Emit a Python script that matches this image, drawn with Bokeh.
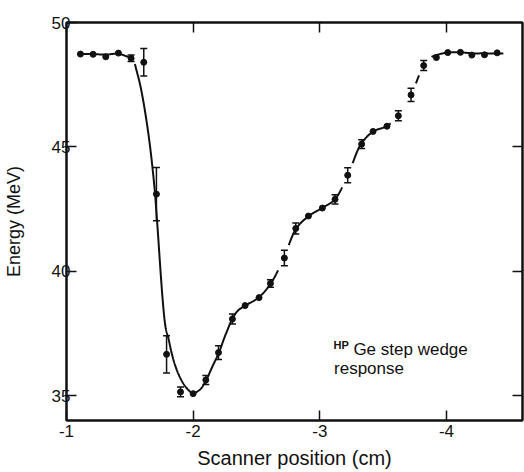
import numpy as np
from bokeh.plotting import figure
from bokeh.models import (Range1d, FixedTicker, LinearAxis, Whisker, TeeHead,
                          ColumnDataSource, Label)
from bokeh.embed import file_html
from bokeh.resources import INLINE

# ---------------- data ----------------
pos_cm = [-1.11, -1.21, -1.31, -1.41, -1.51, -1.61, -1.71, -1.79, -1.90, -2.00,
          -2.10, -2.20, -2.31, -2.41, -2.52, -2.61, -2.72, -2.81, -2.91, -3.02,
          -3.12, -3.22, -3.33, -3.42, -3.53, -3.62, -3.72, -3.82, -3.92, -4.01,
          -4.11, -4.20, -4.30, -4.40]
energy = [48.73, 48.72, 48.62, 48.77, 48.56, 48.40, 43.10, 36.66, 35.15, 35.08,
          35.63, 36.73, 38.08, 38.62, 38.94, 39.51, 40.53, 41.72, 42.22, 42.54,
          42.89, 43.86, 45.11, 45.62, 45.83, 46.25, 47.09, 48.27, 48.59, 48.79,
          48.80, 48.69, 48.70, 48.78]
err = [0, 0, 0, 0, 0.13, 0.55, 1.07, 0.75, 0.20, 0,
       0.18, 0.28, 0.20, 0, 0, 0.15, 0.31, 0.22, 0, 0,
       0.19, 0.30, 0.18, 0, 0, 0.20, 0.27, 0.20, 0, 0,
       0, 0, 0, 0]

# hand-drawn guide curve (two pieces)
curve1_x = [-1.11, -1.21, -1.31, -1.41, -1.51]
curve1_y = [48.74, 48.73, 48.71, 48.74, 48.57]
curve2_x = [-1.54, -1.587, -1.647, -1.695, -1.713, -1.782, -1.805, -1.825, -1.853,
            -1.882, -1.922, -1.962, -1.996, -2.053, -2.098, -2.153, -2.203, -2.252,
            -2.309, -2.352, -2.411, -2.516, -2.613, -2.715, -2.814, -2.913, -3.016,
            -3.118, -3.221, -3.325, -3.422, -3.525, -3.624, -3.720, -3.819, -3.870,
            -3.948, -4.012, -4.108, -4.207, -4.300, -4.449]
curve2_y = [48.33, 47.36, 45.51, 43.35, 42.16, 37.75, 37.30, 36.82, 36.29,
            35.89, 35.49, 35.23, 35.10, 35.24, 35.58, 36.18, 36.73, 37.40,
            38.08, 38.41, 38.62, 38.94, 39.51, 40.53, 41.72, 42.22, 42.54,
            42.89, 43.86, 45.11, 45.62, 45.83, 46.25, 47.09, 48.27, 48.58,
            48.73, 48.79, 48.80, 48.76, 48.76, 48.75]
# points where the drawn curve is broken around the error bar
gap_points = [-2.72, -3.22, -3.62, -3.72, -3.82]

x_ticks = [-1, -2, -3, -4]
x_tick_labels = ["-1", "-2", "-3", "-4"]
y_ticks = [35, 40, 45, 50]
y_tick_labels = ["35", "40", "45", "50"]

FONT = "Liberation Sans"
INK = "#111111"


def smooth(xs, ys, n=24, ax=128.0, ay=25.0):
    """centripetal Catmull-Rom through the read knots (rendering only)"""
    P = np.column_stack([np.asarray(xs) * ax, np.asarray(ys) * ay])
    P = np.vstack([2 * P[0] - P[1], P, 2 * P[-1] - P[-2]])
    out = []
    for i in range(1, len(P) - 2):
        p0, p1, p2, p3 = P[i - 1], P[i], P[i + 1], P[i + 2]
        t0 = 0.0
        t1 = t0 + np.linalg.norm(p1 - p0) ** 0.5 + 1e-9
        t2 = t1 + np.linalg.norm(p2 - p1) ** 0.5 + 1e-9
        t3 = t2 + np.linalg.norm(p3 - p2) ** 0.5 + 1e-9
        for t in np.linspace(t1, t2, n, endpoint=False):
            a1 = (t1 - t) / (t1 - t0) * p0 + (t - t0) / (t1 - t0) * p1
            a2 = (t2 - t) / (t2 - t1) * p1 + (t - t1) / (t2 - t1) * p2
            a3 = (t3 - t) / (t3 - t2) * p2 + (t - t2) / (t3 - t2) * p3
            b1 = (t2 - t) / (t2 - t0) * a1 + (t - t0) / (t2 - t0) * a2
            b2 = (t3 - t) / (t3 - t1) * a2 + (t - t1) / (t3 - t1) * a3
            out.append((t2 - t) / (t2 - t1) * b1 + (t - t1) / (t2 - t1) * b2)
    out.append(P[-2])
    out = np.array(out)
    return out[:, 0] / ax, out[:, 1] / ay


p = figure(width=524, height=472, output_backend="svg", toolbar_location=None,
           x_range=Range1d(-1, -4.6), y_range=Range1d(34, 50),
           min_border_left=63, min_border_right=2, min_border_top=22,
           min_border_bottom=52)
p.grid.visible = False
p.background_fill_color = "white"
p.border_fill_color = "white"
p.outline_line_color = INK
p.outline_line_width = 2

# curve
c1x, c1y = smooth(curve1_x, curve1_y)
p.line(c1x, c1y, line_color=INK, line_width=2)
c2x, c2y = smooth(curve2_x, curve2_y)
c2y = c2y.copy()
for g in gap_points:
    i = pos_cm.index(g)
    mask = (np.abs(c2x - g) < 0.06) & (np.abs(c2y - energy[i]) < err[i] + 0.18)
    c2y[mask] = np.nan
p.line(c2x, c2y, line_color=INK, line_width=2)

# error bars
ex = [x for x, e in zip(pos_cm, err) if e > 0]
ey = [y for y, e in zip(energy, err) if e > 0]
ee = [e for e in err if e > 0]
esrc = ColumnDataSource(dict(x=ex, upper=[y + e for y, e in zip(ey, ee)],
                             lower=[y - e for y, e in zip(ey, ee)]))
wh = Whisker(source=esrc, base="x", upper="upper", lower="lower",
             dimension="height", line_color=INK, line_width=1.5,
             upper_head=TeeHead(size=7, line_width=1.5, line_color=INK),
             lower_head=TeeHead(size=7, line_width=1.5, line_color=INK))
p.add_layout(wh)

# points
p.scatter(pos_cm, energy, size=6, color=INK)

# axes
for ax, ticks, labels in ((p.xaxis[0], x_ticks, x_tick_labels),
                          (p.yaxis[0], y_ticks, y_tick_labels)):
    ax.ticker = FixedTicker(ticks=ticks)
    ax.major_label_overrides = {t: l for t, l in zip(ticks, labels)}
    ax.minor_tick_line_color = None
    ax.major_tick_in = 10
    ax.major_tick_out = 0
    ax.major_tick_line_width = 1.5
    ax.major_tick_line_color = INK
    ax.axis_line_width = 2
    ax.axis_line_color = INK
    ax.major_label_text_font = FONT
    ax.major_label_text_font_size = "17px"
    ax.major_label_text_color = INK
    ax.axis_label_text_font = FONT
    ax.axis_label_text_font_style = "normal"
    ax.axis_label_text_color = INK

p.xaxis.major_label_standoff = 4
p.xaxis.axis_label = "Scanner position (cm)"
p.xaxis.axis_label_text_font_size = "20px"
p.xaxis.axis_label_standoff = 7
p.yaxis.major_label_standoff = -4
p.yaxis.axis_label = "Energy (MeV)"
p.yaxis.axis_label_text_font_size = "18px"
p.yaxis.axis_label_standoff = 25

for loc, ticks in (("above", x_ticks), ("right", y_ticks[:3])):
    a = LinearAxis(ticker=FixedTicker(ticks=ticks))
    a.major_label_text_font_size = "1px"
    a.major_label_text_color = None
    a.major_label_standoff = 0
    a.minor_tick_line_color = None
    a.major_tick_in = 10
    a.major_tick_out = 0
    a.major_tick_line_width = 1.5
    a.major_tick_line_color = INK
    a.axis_line_width = 2
    a.axis_line_color = INK
    p.add_layout(a, loc)

# annotation
p.add_layout(Label(x=-3.108, y=37.04, text="HP", text_font=FONT,
                   text_font_size="11px", text_font_style="bold",
                   text_color=INK, text_baseline="alphabetic"))
p.add_layout(Label(x=-3.265, y=36.85, text="Ge step wedge", text_font=FONT,
                   text_font_size="17px", text_color=INK,
                   text_baseline="alphabetic"))
p.add_layout(Label(x=-3.112, y=36.11, text="response", text_font=FONT,
                   text_font_size="17px", text_color=INK,
                   text_baseline="alphabetic"))

open("out.html", "w").write(file_html(p, INLINE))
